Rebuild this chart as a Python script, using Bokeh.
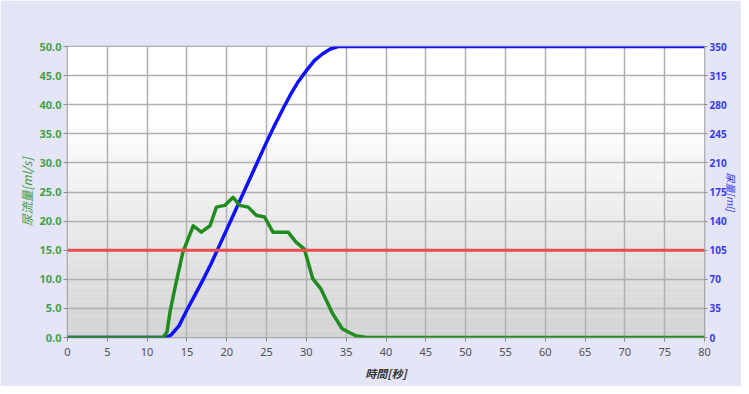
from bokeh.plotting import figure
from bokeh.models import Range1d, LinearAxis, FixedTicker, PrintfTickFormatter, Span
from bokeh.embed import file_html
from bokeh.resources import INLINE
import numpy as np

# ---- data ----
flow_t = [0, 12.0, 12.5, 12.9, 13.7, 14.5, 15.8, 16.8, 17.9, 18.7, 19.75, 20.8,
          21.6, 22.7, 23.7, 24.75, 25.8, 27.7, 28.7, 29.75, 30.8, 31.8, 33.3,
          34.5, 36.2, 37.5, 80]
flow = [0, 0, 1.0, 4.6, 9.8, 14.7, 19.2, 18.1, 19.2, 22.4, 22.7, 24.1,
        22.7, 22.4, 21.0, 20.7, 18.1, 18.1, 16.4, 15.2, 10.1, 8.4, 4.1,
        1.5, 0.3, 0, 0]

vol_t = [0, 12.3, 13, 14, 15, 16, 17, 18, 19, 20, 21, 22, 23, 24, 25, 26, 27,
         28, 29, 30, 31, 32, 33, 34, 35, 80]
vol = [0, 0, 3, 14, 33, 51, 69, 88, 109, 130, 151, 172, 193, 214, 235, 255,
       274, 292, 308, 321, 333, 341, 347, 350, 350, 350]

threshold = 15.0
x_ticks = list(range(0, 81, 5))
left_ticks = [0, 5, 10, 15, 20, 25, 30, 35, 40, 45, 50]
right_ticks = [0, 35, 70, 105, 140, 175, 210, 245, 280, 315, 350]

x_label = "時間[秒]"
left_label = "尿流量[ml/s]"
right_label = "尿量[ml]"

LAV = "#e4e5f7"
GREEN = "#1e8c1e"
BLUE = "#1010ff"
RED = "#f24c4c"
GRID = "#b0b0b0"

p = figure(width=741, height=386, output_backend="svg", toolbar_location=None,
           title=None, x_range=Range1d(0, 80), y_range=Range1d(0, 50),
           min_border_left=67, min_border_right=35, min_border_top=46,
           min_border_bottom=49)
p.extra_y_ranges = {"vol": Range1d(0, 350)}

p.border_fill_color = LAV
p.background_fill_color = "white"
p.outline_line_color = "#9a9a9a"
p.outline_line_width = 1.5

# vertical gradient background (decoration)
edges = np.linspace(0, 50, 41)
cols = []
for i in range(40):
    mid = (edges[i] + edges[i + 1]) / 2
    f = max(0.0, min(1.0, (38 - mid) / 38))
    g = int(round(255 - f * 44))
    cols.append("#%02x%02x%02x" % (g, g, g))
p.quad(left=0, right=80, bottom=edges[:-1], top=edges[1:], fill_color=cols,
       line_color=None, level="image")

for g in (p.xgrid, p.ygrid):
    g.grid_line_color = GRID
    g.grid_line_width = 1.5
p.xgrid.ticker = FixedTicker(ticks=x_ticks)
p.ygrid.ticker = FixedTicker(ticks=left_ticks)

# axes
xa = p.xaxis[0]
xa.ticker = FixedTicker(ticks=x_ticks)
xa.axis_label = x_label
xa.axis_label_text_font = "Noto Sans CJK JP"
xa.axis_label_text_font_size = "11px"
xa.axis_label_text_font_style = "bold italic"
xa.axis_label_text_color = "#333333"
xa.axis_label_standoff = 6
xa.major_label_text_font = "Noto Sans"
xa.major_label_text_font_size = "11px"
xa.major_label_text_color = "#505050"
xa.major_label_standoff = 6

ya = p.yaxis[0]
ya.ticker = FixedTicker(ticks=left_ticks)
ya.formatter = PrintfTickFormatter(format="%.1f")
ya.axis_label = left_label
ya.axis_label_text_font = "Noto Sans CJK JP"
ya.axis_label_text_font_size = "12px"
ya.axis_label_text_font_style = "italic"
ya.axis_label_text_color = "#3c9c3c"
ya.axis_label_standoff = 2
ya.major_label_text_font = "Noto Sans"
ya.major_label_text_font_size = "11px"
ya.major_label_text_font_style = "bold"
ya.major_label_text_color = "#46a046"
ya.major_label_standoff = 2

ra = LinearAxis(y_range_name="vol", ticker=FixedTicker(ticks=right_ticks))
ra.axis_label = right_label
ra.axis_label_text_font = "Noto Sans CJK JP"
ra.axis_label_text_font_size = "10px"
ra.axis_label_text_font_style = "italic"
ra.axis_label_text_color = "#3a3aee"
ra.axis_label_standoff = -6
ra.major_label_text_font = "Noto Sans"
ra.major_label_text_font_size = "10px"
ra.major_label_text_font_style = "bold"
ra.major_label_text_color = "#3a3aee"
ra.major_label_standoff = 2
p.add_layout(ra, "right")

for ax in (xa, ya, ra):
    ax.axis_line_color = None
    ax.major_tick_line_color = "#8a8a8a"
    ax.major_tick_in = 0
    ax.major_tick_out = 4
    ax.minor_tick_line_color = None
ra.major_tick_out = 3

p.add_layout(Span(location=threshold, dimension="width", line_color=RED,
                  line_width=3, level="glyph"))

p.line(vol_t, vol, y_range_name="vol", line_color=BLUE, line_width=3.5,
       line_join="round")
p.line(flow_t, flow, line_color=GREEN, line_width=3.5, line_join="round")

open("out.html", "w").write(file_html(p, INLINE))
